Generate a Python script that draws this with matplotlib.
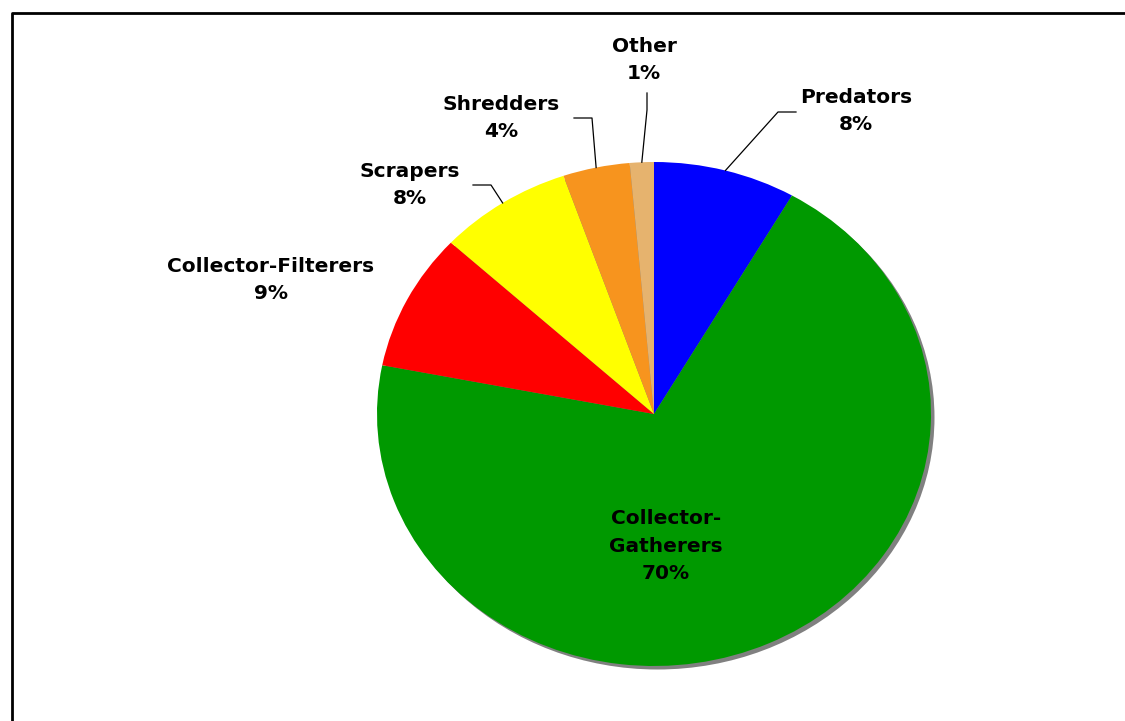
import numpy as np
import matplotlib.pyplot as plt
from matplotlib.patches import Ellipse
from matplotlib.lines import Line2D

# Functional feeding groups, share of individuals (%)
groups = ["Predators", "Collector-\nGatherers", "Collector-Filterers",
          "Scrapers", "Shredders", "Other"]
shares = [8.3, 69.8, 8.8, 7.8, 3.9, 1.4]
colors = ["#0000FF", "#009900", "#FF0000", "#FFFF00", "#F7941E", "#E6B36E"]

# Layout in pixels: pie centre, radii, label centres and leader elbows
W, H = 1125, 721
cx, cy, rx, ry = 654, 414, 277, 252
label_px = [(856, 111), (666, 546), (271, 280), (410, 185), (501, 118), (644, 60)]
leader_px = {0: [(778, 112), (796, 112)],
             3: [(491, 185), (473, 185)],
             4: [(592, 118), (574, 118)],
             5: [(647, 110), (647, 93)]}


def px(x, y):
    # pixel position -> data coordinates of the pie axes
    return (x - cx) / rx, (cy - y) / ry


fig = plt.figure(figsize=(W / 100, H / 100), dpi=100)
ax = fig.add_axes([0, 0, 1, 1])

# flat grey drop shadow behind the pie
sx, sy = 3.5 / rx, -3.5 / ry
ax.add_patch(Ellipse((sx, sy), 2, 2, facecolor="#808080", edgecolor="none", zorder=0))

wedges, _ = ax.pie(shares, colors=colors, startangle=90, counterclock=False,
                   radius=1, wedgeprops=dict(linewidth=0))
for w in wedges:
    w.set_zorder(1)

ax.set_aspect("auto")
ax.set_xlim(-cx / rx, (W - cx) / rx)
ax.set_ylim(-(H - cy) / ry, cy / ry)
ax.axis("off")

for i, (name, v) in enumerate(zip(groups, shares)):
    tx, ty = px(*label_px[i])
    ax.text(tx, ty, f"{name}\n{v:.0f}%", ha="center", va="center",
            fontsize=14.5, fontweight="bold", family="DejaVu Sans",
            linespacing=1.55, color="#000000", zorder=3)
    if i in leader_px:
        w = wedges[i]
        mid = np.deg2rad((w.theta1 + w.theta2) / 2)
        pts = [(np.cos(mid), np.sin(mid))] + [px(*p) for p in leader_px[i]]
        xs, ys = zip(*pts)
        ax.plot(xs, ys, color="black", lw=0.9, zorder=2)

# chart frame (runs off the right and bottom edges)
fig.add_artist(Line2D([12 / W, 12 / W, 1.0], [0.0, 1 - 13 / H, 1 - 13 / H],
                      transform=fig.transFigure, color="black", lw=2))

fig.savefig("out.png", dpi=100)
